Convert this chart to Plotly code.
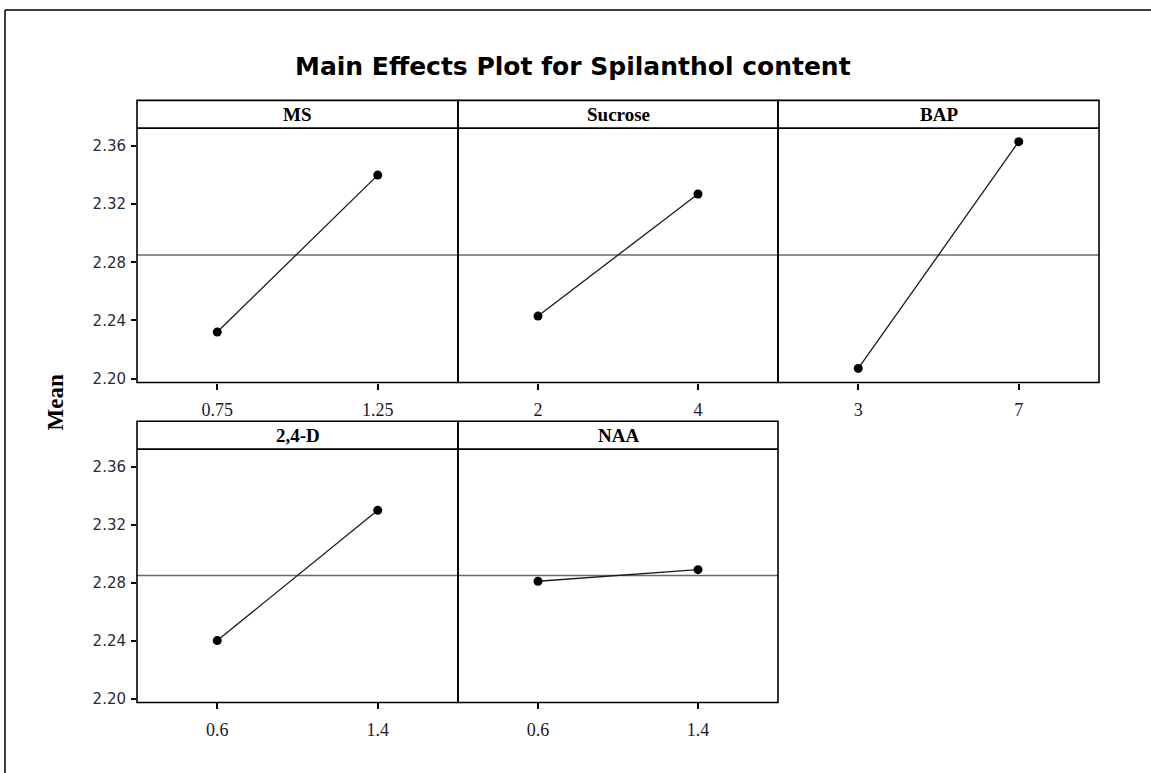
import plotly.graph_objects as go

# ---------------- data ----------------
factors = ["MS", "Sucrose", "BAP", "2,4-D", "NAA"]
ms_levels = [0.75, 1.25]
ms_means = [2.232, 2.340]
sucrose_levels = [2, 4]
sucrose_means = [2.243, 2.327]
bap_levels = [3, 7]
bap_means = [2.207, 2.363]
d24_levels = [0.6, 1.4]
d24_means = [2.240, 2.330]
naa_levels = [0.6, 1.4]
naa_means = [2.281, 2.289]
grand_mean = 2.285
y_ticks = [2.20, 2.24, 2.28, 2.32, 2.36]
title_text = "Main Effects Plot for Spilanthol content"
y_title = "Mean"

levels = [ms_levels, sucrose_levels, bap_levels, d24_levels, naa_levels]
means = [ms_means, sucrose_means, bap_means, d24_means, naa_means]

# ---------------- layout geometry (pixels) ----------------
W, H = 1151, 773
col_edges = [137, 458, 778, 1099]
rows = [  # (header_top, plot_top, plot_bottom)
    (101, 129, 385),
    (424, 452, 707),
]
Y_RANGE = [2.1973, 2.3723]

def px(x):
    return x / W

def py(y):
    return 1 - y / H

fig = go.Figure()
shapes = []
annotations = []
layout_axes = {}

for i, name in enumerate(factors):
    r, c = divmod(i, 3)
    htop, ptop, pbot = rows[r]
    x0, x1 = col_edges[c], col_edges[c + 1]
    k = "" if i == 0 else str(i + 1)
    xa, ya = "x" + k, "y" + k

    fig.add_trace(go.Scatter(
        x=levels[i], y=means[i], mode="lines+markers",
        xaxis=xa, yaxis=ya, showlegend=False,
        line=dict(color="#1a1a1a", width=1.3),
        marker=dict(color="black", size=9),
        hoverinfo="x+y",
    ))

    lo, hi = min(levels[i]), max(levels[i])
    pad = (hi - lo) / 2
    layout_axes["xaxis" + k] = dict(
        domain=[px(x0), px(x1)], anchor=ya, range=[lo - pad, hi + pad],
        tickvals=levels[i], ticktext=[f"{v:g}" for v in levels[i]],
        ticks="outside", ticklen=6, tickwidth=1.5, tickcolor="black",
        ticklabelstandoff=5,
        showgrid=False, zeroline=False, showline=False,
        tickfont=dict(family="Liberation Serif", size=18, color="#1a1a2a"),
    )
    first_col = (c == 0)
    layout_axes["yaxis" + k] = dict(
        domain=[py(pbot), py(ptop)], anchor=xa, range=Y_RANGE,
        tickvals=y_ticks if first_col else [],
        ticktext=[f"{v:.2f}" for v in y_ticks] if first_col else [],
        showticklabels=first_col,
        ticks="outside" if first_col else "", ticklen=5, tickwidth=1.5, tickcolor="black",
        ticklabelstandoff=2,
        showgrid=False, zeroline=False, showline=False,
        tickfont=dict(family="DejaVu Sans", size=15, color="#2a2a3a"),
    )

    # grand-mean reference line
    shapes.append(dict(type="line", xref=xa + " domain", yref=ya,
                       x0=0, x1=1, y0=grand_mean, y1=grand_mean,
                       line=dict(color="#6a6a6a", width=1.5), layer="below"))
    # panel frame (header + plot)
    shapes.append(dict(type="rect", xref="paper", yref="paper",
                       x0=px(x0), x1=px(x1), y0=py(pbot), y1=py(htop),
                       line=dict(color="black", width=1.6)))
    shapes.append(dict(type="line", xref="paper", yref="paper",
                       x0=px(x0), x1=px(x1), y0=py(ptop), y1=py(ptop),
                       line=dict(color="black", width=1.6)))
    annotations.append(dict(text=f"<b>{name}</b>", xref="paper", yref="paper",
                            x=px((x0 + x1) / 2), y=py((htop + ptop) / 2),
                            xanchor="center", yanchor="middle", showarrow=False,
                            font=dict(family="Liberation Serif", size=19, color="black")))

# outer border (top and left edges)
shapes.append(dict(type="line", xref="paper", yref="paper",
                   x0=px(5), x1=1.01, y0=py(10), y1=py(10),
                   line=dict(color="black", width=1.5)))
shapes.append(dict(type="line", xref="paper", yref="paper",
                   x0=px(5), x1=px(5), y0=-0.01, y1=py(10),
                   line=dict(color="black", width=1.5)))

annotations.append(dict(text=f"<b>{title_text}</b>", xref="paper", yref="paper",
                        x=px(573), y=py(67), xanchor="center", yanchor="middle",
                        showarrow=False,
                        font=dict(family="DejaVu Sans", size=25, color="black")))
annotations.append(dict(text=f"<b>{y_title}</b>", xref="paper", yref="paper",
                        x=px(55), y=py(405), xanchor="center", yanchor="middle",
                        showarrow=False, textangle=-90,
                        font=dict(family="Liberation Serif", size=23, color="black")))

fig.update_layout(
    width=W, height=H, margin=dict(l=0, r=0, t=0, b=0),
    paper_bgcolor="white", plot_bgcolor="white",
    shapes=shapes, annotations=annotations, **layout_axes,
)

fig.write_html("out.html")
